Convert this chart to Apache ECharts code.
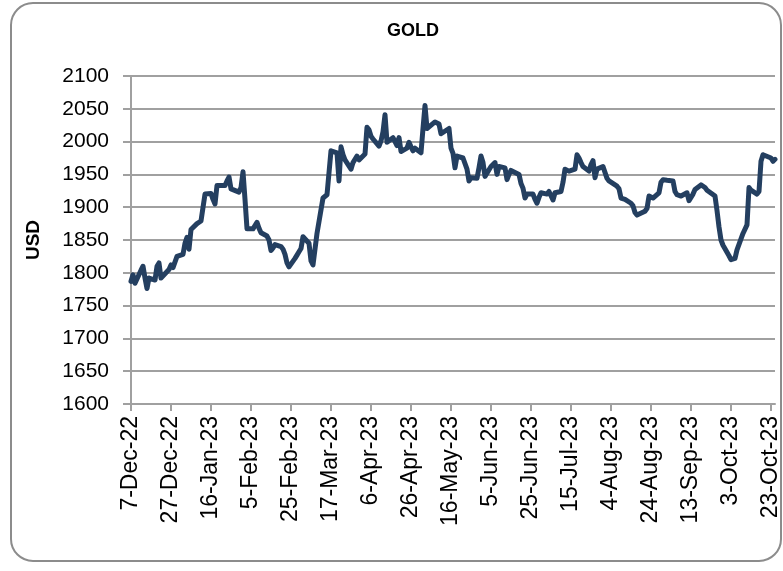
<!DOCTYPE html>
<html>
<head>
<meta charset="utf-8">
<script src="https://cdn.jsdelivr.net/npm/echarts@6/dist/echarts.min.js"></script>
<style>
  html, body { margin: 0; padding: 0; background: #fff; }
  #chart { width: 783px; height: 571px; }
</style>
</head>
<body>
<div id="chart"></div>
<script>
// trading-day closes (weekdays only)
const dec22 = [1787, 1797, 1784, 1804, 1810, 1792, 1776, 1792, 1789, 1810, 1815, 1792, 1795, 1805, 1812, 1808, 1805, 1825]
const jan23 = [1828, 1845, 1854, 1836, 1866, 1875, 1877, 1879, 1880, 1920, 1921, 1912, 1905, 1933, 1931, 1933, 1940, 1946, 1928, 1926, 1923, 1930]
const feb23 = [1954, 1912, 1867, 1867, 1872, 1877, 1868, 1861, 1856, 1850, 1834, 1838, 1843, 1840, 1836, 1828, 1815, 1809, 1822, 1827]
const mar23 = [1832, 1837, 1855, 1845, 1818, 1812, 1815, 1860, 1914, 1917, 1919, 1922, 1986, 1983, 1940, 1992, 1980, 1972, 1958, 1968, 1965, 1978, 1972]
const apr23 = [1981, 2022, 2018, 2008, 2004, 1993, 2001, 2015, 2041, 1999, 2006, 2000, 1994, 2006, 1985, 1990, 1999, 1992, 1986, 1990]
const may23 = [1983, 2020, 2055, 2020, 2022, 2030, 2033, 2027, 2012, 2015, 2020, 1990, 1982, 1960, 1978, 1975, 1972, 1958, 1940, 1945, 1944, 1960, 1978]
const jun23 = [1968, 1947, 1962, 1965, 1968, 1950, 1962, 1960, 1942, 1950, 1956, 1958, 1950, 1936, 1929, 1914, 1920, 1920, 1912, 1906, 1915, 1922]
const jul23 = [1920, 1924, 1924, 1911, 1922, 1924, 1938, 1958, 1960, 1955, 1958, 1980, 1975, 1968, 1962, 1955, 1965, 1971, 1945, 1958, 1962]
const aug23 = [1965, 1944, 1940, 1940, 1932, 1928, 1914, 1913, 1912, 1906, 1902, 1892, 1888, 1890, 1894, 1898, 1917, 1916, 1914, 1922, 1938, 1942, 1941]
const sep23 = [1941, 1940, 1924, 1919, 1918, 1917, 1922, 1910, 1912, 1920, 1927, 1934, 1931, 1930, 1926, 1924, 1917, 1895, 1870, 1850, 1842]
const oct23 = [1826, 1820, 1818, 1822, 1835, 1860, 1863, 1873, 1930, 1926, 1920, 1924, 1970, 1980, 1981, 1975, 1970, 1973]

const startDate = "2022-12-07"
const endDate = "2023-10-25"
const monthNames = ["Jan", "Feb", "Mar", "Apr", "May", "Jun", "Jul", "Aug", "Sep", "Oct", "Nov", "Dec"]
const yTicks = { min: 1600, max: 2100, step: 50 }

const prices = [].concat(dec22, jan23, feb23, mar23, apr23, may23, jun23, jul23, aug23, sep23, oct23)

// date axis like excel: every calendar day, weekends empty
const categories = []
const values = []
let k = 0
const end = new Date(endDate + "T00:00:00Z")
for (let d = new Date(startDate + "T00:00:00Z"); d <= end; d.setUTCDate(d.getUTCDate() + 1)) {
  const yy = String(d.getUTCFullYear()).slice(2)
  categories.push(`${d.getUTCDate()}-${monthNames[d.getUTCMonth()]}-${yy}`)
  const wd = d.getUTCDay()
  values.push(wd === 0 || wd === 6 ? null : prices[k++])
}

const myChart = echarts.init(document.getElementById("chart"))

const font = "'Liberation Sans', Arial, sans-serif"

myChart.setOption({
  animation: false,
  textStyle: { fontFamily: font },
  title: {
    text: "GOLD",
    left: 382,
    top: 17,
    textStyle: { fontSize: 18, fontWeight: "bold", color: "#000", fontFamily: font },
  },
  graphic: [
    {
      type: "rect",
      shape: { x: 11, y: 3, width: 770, height: 558, r: 22 },
      style: { fill: "none", stroke: "#8c8c8c", lineWidth: 2 },
      z: -1,
    },
  ],
  grid: {
    left: 131,
    right: 8,
    top: 76,
    bottom: 167,
  },
  xAxis: {
    type: "category",
    data: categories,
    boundaryGap: false,
    axisLine: { lineStyle: { color: "#a0a0a0", width: 2 } },
    axisTick: { interval: 19, length: 7, lineStyle: { color: "#a0a0a0", width: 2 } },
    axisLabel: {
      interval: 19,
      rotate: 90,
      margin: 12,
      fontSize: 23,
      color: "#000",
      fontFamily: font,
    },
    splitLine: { show: false },
  },
  yAxis: {
    type: "value",
    min: yTicks.min,
    max: yTicks.max,
    interval: yTicks.step,
    name: "USD",
    nameLocation: "middle",
    nameGap: 88,
    nameRotate: 90,
    nameTextStyle: { fontSize: 19, fontWeight: "bold", color: "#000", fontFamily: font },
    axisLine: { show: true, lineStyle: { color: "#a0a0a0", width: 2 } },
    axisTick: { show: true, length: 8, lineStyle: { color: "#a0a0a0", width: 2 } },
    axisLabel: {
      fontSize: 21,
      color: "#000",
      margin: 22,
      fontFamily: font,
      formatter: (v) => String(v),
    },
    splitLine: { lineStyle: { color: "#a0a0a0", width: 2 } },
  },
  series: [
    {
      name: "GOLD",
      type: "line",
      data: values,
      connectNulls: true,
      showSymbol: false,
      symbol: "none",
      lineStyle: { color: "#243f60", width: 5, join: "round", cap: "round" },
    },
  ],
})
</script>
</body>
</html>
